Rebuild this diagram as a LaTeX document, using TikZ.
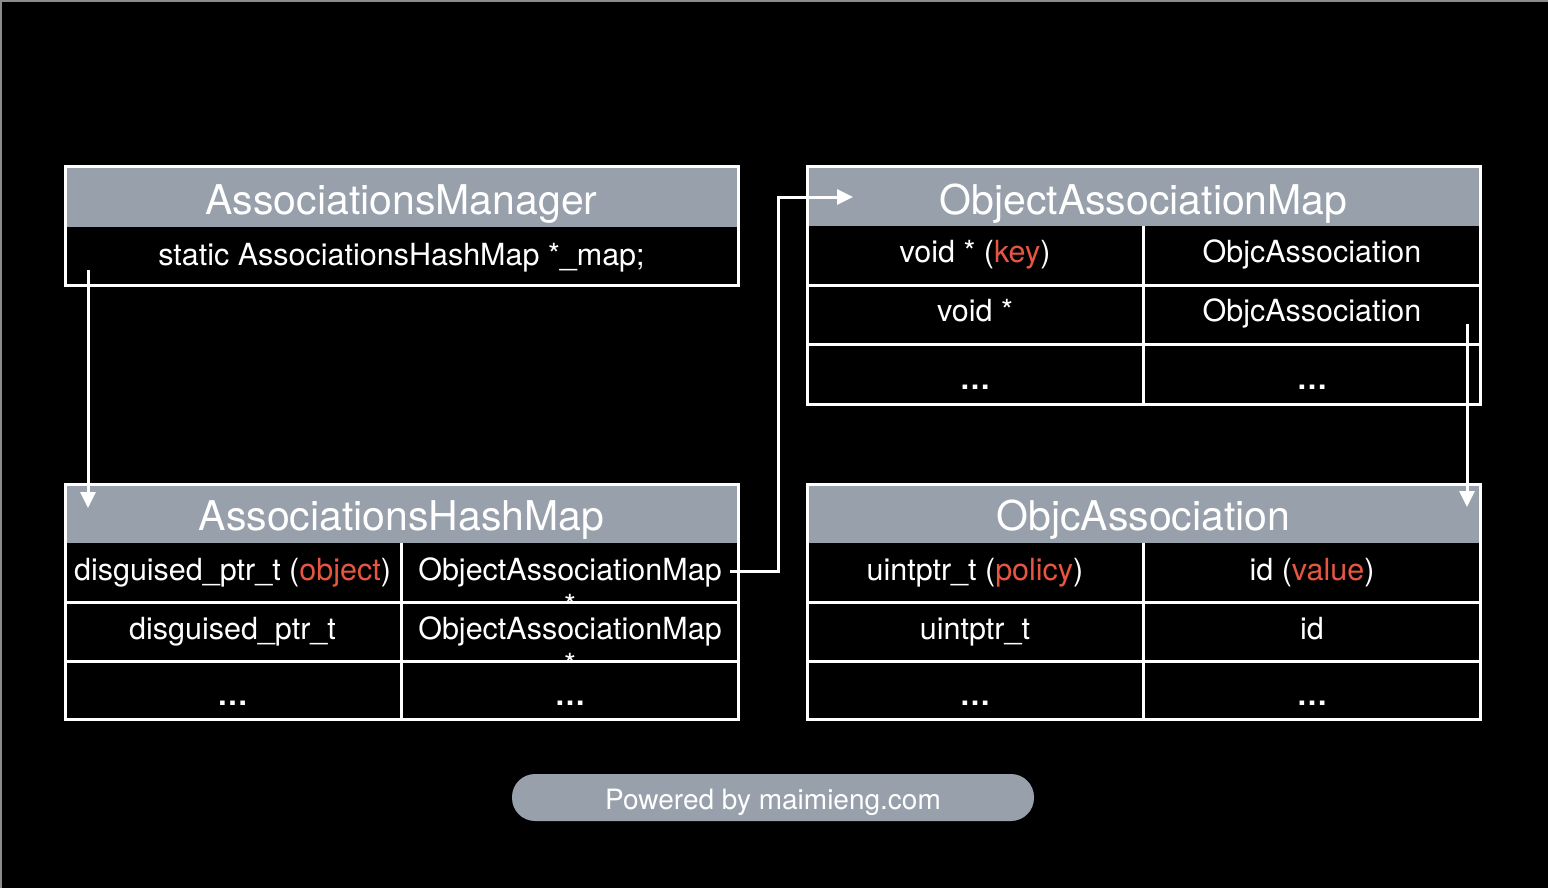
\documentclass[tikz,border=0pt]{standalone}
\usepackage{fontspec}
\setmainfont{TeX Gyre Heros}
\usetikzlibrary{arrows.meta}
\definecolor{hdrgray}{RGB}{151,160,171}
\definecolor{keyred}{RGB}{232,86,66}
\definecolor{edgegray}{RGB}{140,140,140}
\tikzstyle{frame}=[draw=white, line width=3pt]
\tikzstyle{header}=[fill=hdrgray]
\tikzstyle{title}=[text=white, anchor=base, inner sep=0pt, font=\fontsize{41}{48}\selectfont]
\tikzstyle{cell}=[text=white, anchor=base, inner sep=0pt, font=\fontsize{30.5}{36}\selectfont]
\tikzstyle{more}=[cell, font=\fontsize{30.5}{36}\selectfont\bfseries]
\tikzstyle{link}=[draw=white, line width=3pt, -{Triangle[length=16pt,width=15pt]}]
\tikzstyle{pill}=[fill=hdrgray, rounded corners=23pt]
\tikzstyle{credit}=[text=white, anchor=base, inner sep=0pt, font=\fontsize{28}{32}\selectfont]
\newcommand{\keyhl}[1]{\textcolor{keyred}{#1}}

\begin{document}
\begin{tikzpicture}[x=1pt,y=-1pt]
  \fill[black] (0,0) rectangle (1548,888);
  \useasboundingbox (0,0) rectangle (1548,888);
  \draw[edgegray, line width=2pt] (0,1) -- (1548,1);
  \draw[edgegray, line width=2pt] (1,0) -- (1,888);

  %% AssociationsManager
  \fill[header] (65,166.5) rectangle (738,227);
  \draw[frame] (65,166.5) rectangle (738,285.5);
  \draw (401.5,214) node[title] (AM) {AssociationsManager};
  \draw (401.5,265) node[cell] (AMmap) {static AssociationsHashMap *\_map;};

  %% AssociationsHashMap
  \fill[header] (65,484) rectangle (738,543);
  \begin{scope}
    \clip (401,543) rectangle (738,602);
    \draw (570,616) node[cell] (HVstar1) {*};
  \end{scope}
  \begin{scope}
    \clip (401,602) rectangle (738,661);
    \draw (570,675) node[cell] (HVstar2) {*};
  \end{scope}
  \draw[frame] (65,484) rectangle (738,719);
  \draw[frame] (65,602) -- (738,602);
  \draw[frame] (65,661) -- (738,661);
  \draw[frame] (401,543) -- (401,719);
  \draw (401.5,530) node[title] (HM) {AssociationsHashMap};
  \draw (232.5,580) node[cell] (HK1) {disguised\_ptr\_t (\keyhl{object})};
  \draw (570,580) node[cell] (HV1) {ObjectAssociationMap};
  \draw (232.5,639) node[cell] (HK2) {disguised\_ptr\_t};
  \draw (570,639) node[cell] (HV2) {ObjectAssociationMap};
  \draw (232.5,705) node[more] (HK3) {…};
  \draw (570,705) node[more] (HV3) {…};

  %% ObjectAssociationMap
  \fill[header] (807,166.5) rectangle (1480,226);
  \draw[frame] (807,166.5) rectangle (1480,404);
  \draw[frame] (807,285.5) -- (1480,285.5);
  \draw[frame] (807,344.5) -- (1480,344.5);
  \draw[frame] (1143,226) -- (1143,404);
  \draw (1143.5,214) node[title] (OM) {ObjectAssociationMap};
  \draw (975,262) node[cell] (OK1) {void * (\keyhl{key})};
  \draw (1312,262) node[cell] (OV1) {ObjcAssociation};
  \draw (975,321) node[cell] (OK2) {void *};
  \draw (1312,321) node[cell] (OV2) {ObjcAssociation};
  \draw (975,389) node[more] (OK3) {…};
  \draw (1312,389) node[more] (OV3) {…};

  %% ObjcAssociation
  \fill[header] (807,484) rectangle (1480,543);
  \draw[frame] (807,484) rectangle (1480,719);
  \draw[frame] (807,602) -- (1480,602);
  \draw[frame] (807,661) -- (1480,661);
  \draw[frame] (1143,543) -- (1143,719);
  \draw (1143.5,530) node[title] (OA) {ObjcAssociation};
  \draw (975,580) node[cell] (AK1) {uintptr\_t (\keyhl{policy})};
  \draw (1312,580) node[cell] (AV1) {id (\keyhl{value})};
  \draw (975,639) node[cell] (AK2) {uintptr\_t};
  \draw (1312,639) node[cell] (AV2) {id};
  \draw (975,705) node[more] (AK3) {…};
  \draw (1312,705) node[more] (AV3) {…};

  %% Links
  \coordinate (AMsrc) at (88,270);
  \coordinate (HMtip) at (88,508);
  \coordinate (HVbend) at (778,197);
  \coordinate (OMtip) at (853,197);
  \coordinate (OAsrc) at (1467,324);
  \coordinate (OAtip) at (1467,507);
  \draw[link] (AMsrc) -- (HMtip);
  \draw[link] ([xshift=8pt]HV1.east) -| (HVbend) -- (OMtip);
  \draw[link] (OAsrc) -- (OAtip);

  %% Footer
  \fill[pill] (512,774) rectangle (1034,821);
  \draw (773,809) node[credit] (credit) {Powered by maimieng.com};
\end{tikzpicture}
\end{document}
